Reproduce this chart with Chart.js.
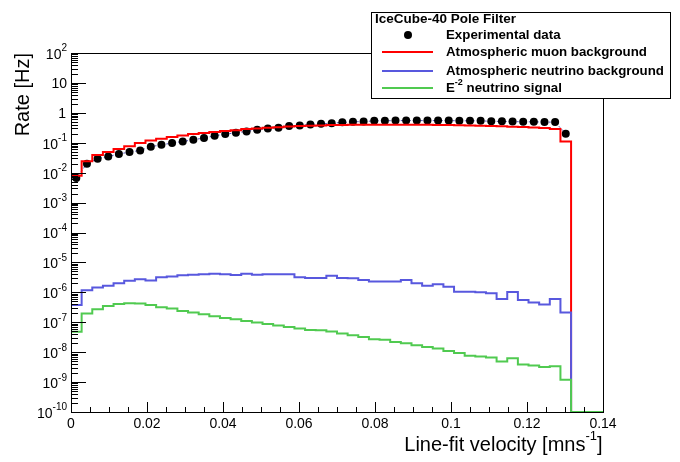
<!DOCTYPE html>
<html>
<head>
<meta charset="utf-8">
<script src="https://cdn.jsdelivr.net/npm/chart.js@4.4.1/dist/chart.umd.min.js"></script>
<style>
  body { margin: 0; background: #fff; }
  canvas { display: block; }
</style>
</head>
<body>
<canvas id="rateChart" width="680" height="462"></canvas>
<script>
// histogram binning (50 bins from 0 to 0.14)
const nBins = 50
const xMin = 0
const xMax = 0.14
const yMin = 1e-10
const yMax = 1e2

// experimental data, one value per filled bin
const dataRate = [
  6.6e-3, 2.0e-2, 2.9e-2, 3.5e-2, 4.2e-2, 4.9e-2, 5.5e-2, 7.4e-2, 8.5e-2, 9.8e-2,
  0.11, 0.126, 0.145, 0.17, 0.195, 0.214, 0.24, 0.27, 0.30, 0.32,
  0.36, 0.38, 0.41, 0.43, 0.45, 0.48, 0.50, 0.51, 0.54, 0.54,
  0.55, 0.55, 0.55, 0.55, 0.55, 0.55, 0.54, 0.54, 0.54, 0.52,
  0.52, 0.51, 0.50, 0.50, 0.49, 0.49, 0.20
]

// simulated histograms (0 = empty bin)
const muonRate = [
  7.9e-3, 2.4e-2, 3.9e-2, 4.9e-2, 6.2e-2, 7.6e-2, 9.8e-2, 0.12, 0.135, 0.155,
  0.174, 0.195, 0.21, 0.23, 0.245, 0.263, 0.29, 0.30, 0.316, 0.33,
  0.347, 0.363, 0.37, 0.38, 0.39, 0.395, 0.40, 0.40, 0.40, 0.40,
  0.40, 0.40, 0.40, 0.40, 0.395, 0.39, 0.385, 0.38, 0.37, 0.36,
  0.355, 0.345, 0.335, 0.325, 0.31, 0.29, 0.11, 0, 0, 0
]
const nuRate = [
  3.8e-7, 1.17e-6, 1.45e-6, 1.66e-6, 2.0e-6, 2.45e-6, 2.75e-6, 2.5e-6, 3.2e-6, 3.4e-6,
  3.7e-6, 3.9e-6, 4.0e-6, 4.2e-6, 4.0e-6, 3.8e-6, 4.2e-6, 3.9e-6, 4.0e-6, 4.0e-6,
  4.0e-6, 3.2e-6, 3.0e-6, 3.0e-6, 3.6e-6, 3.0e-6, 2.95e-6, 2.6e-6, 2.3e-6, 2.3e-6,
  2.3e-6, 2.6e-6, 2.0e-6, 1.66e-6, 1.86e-6, 1.55e-6, 1.05e-6, 1.05e-6, 1.0e-6, 9.3e-7,
  6.0e-7, 1.02e-6, 5.5e-7, 4.6e-7, 3.9e-7, 6.0e-7, 2.1e-7, 0, 0, 0
]
const signalRate = [
  4.8e-8, 1.95e-7, 2.7e-7, 3.5e-7, 4.1e-7, 4.3e-7, 4.2e-7, 3.8e-7, 3.2e-7, 2.9e-7,
  2.4e-7, 2.1e-7, 1.86e-7, 1.58e-7, 1.38e-7, 1.26e-7, 1.1e-7, 9.8e-8, 8.7e-8, 7.8e-8,
  6.9e-8, 6.2e-8, 5.5e-8, 5.4e-8, 4.9e-8, 4.2e-8, 3.7e-8, 3.2e-8, 2.7e-8, 2.6e-8,
  2.2e-8, 2.0e-8, 1.7e-8, 1.48e-8, 1.32e-8, 1.1e-8, 9.3e-9, 7.6e-9, 7.2e-9, 6.6e-9,
  4.9e-9, 6.3e-9, 3.9e-9, 3.6e-9, 3.2e-9, 3.4e-9, 1.2e-9, 0, 0, 0
]

// axis ticks
const xTicks = [0, 0.02, 0.04, 0.06, 0.08, 0.1, 0.12, 0.14]
const xTickLabels = ['0', '0.02', '0.04', '0.06', '0.08', '0.1', '0.12', '0.14']
const yTickExps = [2, 1, 0, -1, -2, -3, -4, -5, -6, -7, -8, -9, -10]

const seriesNames = ['Experimental data', 'Atmospheric muon background', 'Atmospheric neutrino background', 'neutrino signal']
const colRed = 'rgb(255,0,0)'
const colBlue = 'rgb(88,88,222)'
const colGreen = 'rgb(80,202,80)'
const FONT = '"Liberation Sans", Arial, sans-serif'

const binW = (xMax - xMin) / nBins

function histPoints(vals) {
  const pts = []
  for (let i = 0; i < nBins; i++) {
    const v = vals[i] > 0 ? vals[i] : yMin
    pts.push({x: xMin + i * binW, y: v})
  }
  pts.push({x: xMax, y: pts[nBins - 1].y})
  return pts
}

const dataPoints = dataRate.map((v, i) => ({x: xMin + (i + 0.5) * binW, y: v}))

function histSet(label, vals, color, order) {
  return {
    label: label,
    data: histPoints(vals),
    borderColor: color,
    borderWidth: 2,
    stepped: 'before',
    pointRadius: 0,
    fill: false,
    clip: 3,
    order: order
  }
}

// draws text with a raised exponent, right aligned at xr
function drawPow(ctx, base, exp, xr, y, size, expSize) {
  ctx.textBaseline = 'middle'
  ctx.textAlign = 'left'
  ctx.font = size + 'px ' + FONT
  const wb = ctx.measureText(base).width
  ctx.font = expSize + 'px ' + FONT
  const we = exp ? ctx.measureText(exp).width : 0
  ctx.font = size + 'px ' + FONT
  ctx.fillText(base, xr - we - wb, y)
  if (exp) {
    ctx.font = expSize + 'px ' + FONT
    ctx.fillText(exp, xr - we, y - size * 0.45)
  }
}

const rootFrame = {
  id: 'rootFrame',
  afterDraw(chart) {
    const ctx = chart.ctx
    const a = chart.chartArea
    const xs = chart.scales.x
    const ys = chart.scales.y
    ctx.save()
    ctx.strokeStyle = '#000'
    ctx.fillStyle = '#000'
    ctx.lineWidth = 1

    // frame
    ctx.strokeRect(Math.round(a.left) + 0.5, Math.round(a.top) + 0.5,
      Math.round(a.right - a.left), Math.round(a.bottom - a.top))

    // x ticks, minor every 0.005
    ctx.beginPath()
    for (let k = 0; k <= 28; k++) {
      const px = Math.round(xs.getPixelForValue(k * 0.005)) + 0.5
      const len = k % 4 === 0 ? 10 : 5
      ctx.moveTo(px, a.bottom)
      ctx.lineTo(px, a.bottom - len)
    }
    // y ticks, log minors
    for (let e = -10; e <= 2; e++) {
      for (let m = 1; m <= 9; m++) {
        if (e === 2 && m > 1) break
        const py = Math.round(ys.getPixelForValue(m * Math.pow(10, e))) + 0.5
        const len = m === 1 ? 15 : 7
        ctx.moveTo(a.left, py)
        ctx.lineTo(a.left + len, py)
      }
    }
    ctx.stroke()

    // x tick labels
    ctx.font = '14px ' + FONT
    ctx.textAlign = 'center'
    ctx.textBaseline = 'middle'
    xTicks.forEach((t, i) => {
      ctx.fillText(xTickLabels[i], xs.getPixelForValue(t), a.bottom + 12)
    })

    // y tick labels
    yTickExps.forEach(e => {
      const py = ys.getPixelForValue(Math.pow(10, e))
      if (e === 0) drawPow(ctx, '1', '', a.left - 5, py + 1, 14, 10)
      else if (e === 1) drawPow(ctx, '10', '', a.left - 4, py + 1, 14, 10)
      else drawPow(ctx, '10', String(e), a.left - 4, py + 2, 14, 10)
    })

    // axis titles
    ctx.fillStyle = '#000'
    drawPow(ctx, 'Line-fit velocity [mns', '-1', a.right - 6, a.bottom + 33, 20, 13)
    ctx.font = '20px ' + FONT
    ctx.textAlign = 'left'
    ctx.fillText(']', a.right - 6, a.bottom + 33)

    ctx.save()
    ctx.translate(23, a.top)
    ctx.rotate(-Math.PI / 2)
    ctx.textAlign = 'right'
    ctx.textBaseline = 'middle'
    ctx.font = '20px ' + FONT
    ctx.fillText('Rate [Hz]', 0, 0)
    ctx.restore()

    // legend box
    const lx = 371, ly = 12, lw = 299, lh = 86
    ctx.fillStyle = '#fff'
    ctx.fillRect(lx, ly, lw, lh)
    ctx.strokeStyle = '#000'
    ctx.strokeRect(lx + 0.5, ly + 0.5, lw, lh)
    ctx.fillStyle = '#000'
    ctx.font = 'bold 13.5px ' + FONT
    ctx.textAlign = 'left'
    ctx.textBaseline = 'middle'
    ctx.fillText('IceCube-40 Pole Filter', 375, 19)
    const tx = 446
    const rows = [35, 52, 71, 88]
    ctx.font = 'bold 13.3px ' + FONT
    ctx.fillText(seriesNames[0], tx, rows[0])
    ctx.fillText(seriesNames[1], tx, rows[1])
    ctx.fillText(seriesNames[2], tx, rows[2])
    ctx.fillText('E', tx, rows[3])
    const wE = ctx.measureText('E').width
    ctx.font = 'bold 9px ' + FONT
    ctx.fillText('-2', tx + wE, rows[3] - 5)
    const w2 = ctx.measureText('-2').width
    ctx.font = 'bold 13.3px ' + FONT
    ctx.fillText(' ' + seriesNames[3], tx + wE + w2, rows[3])

    ctx.beginPath()
    ctx.arc(408, rows[0], 4, 0, Math.PI * 2)
    ctx.fill()
    ctx.lineWidth = 2
    ;[[colRed, rows[1]], [colBlue, rows[2]], [colGreen, rows[3]]].forEach(([c, y]) => {
      ctx.strokeStyle = c
      ctx.beginPath()
      ctx.moveTo(382, y)
      ctx.lineTo(433, y)
      ctx.stroke()
    })
    ctx.restore()
  }
}

const ctx = document.getElementById('rateChart').getContext('2d')

const myChart = new Chart(ctx, {
  type: 'line',
  data: {
    datasets: [
      histSet(seriesNames[3], signalRate, colGreen, 0),
      histSet(seriesNames[2], nuRate, colBlue, 1),
      histSet(seriesNames[1], muonRate, colRed, 2),
      {
        label: seriesNames[0],
        data: dataPoints,
        borderColor: 'rgba(40,40,170,0.8)',
        borderWidth: 1,
        borderDash: [2, 2],
        pointRadius: 4,
        pointBackgroundColor: '#000',
        pointBorderColor: '#000',
        pointBorderWidth: 0,
        order: 3
      }
    ]
  },
  options: {
    responsive: false,
    animation: false,
    devicePixelRatio: 1,
    layout: {padding: {left: 71, top: 53, right: 77, bottom: 50}},
    plugins: {legend: {display: false}, tooltip: {enabled: false}},
    scales: {
      x: {type: 'linear', min: xMin, max: xMax, display: false},
      y: {type: 'logarithmic', min: yMin, max: yMax, display: false}
    }
  },
  plugins: [rootFrame]
})
</script>
</body>
</html>
